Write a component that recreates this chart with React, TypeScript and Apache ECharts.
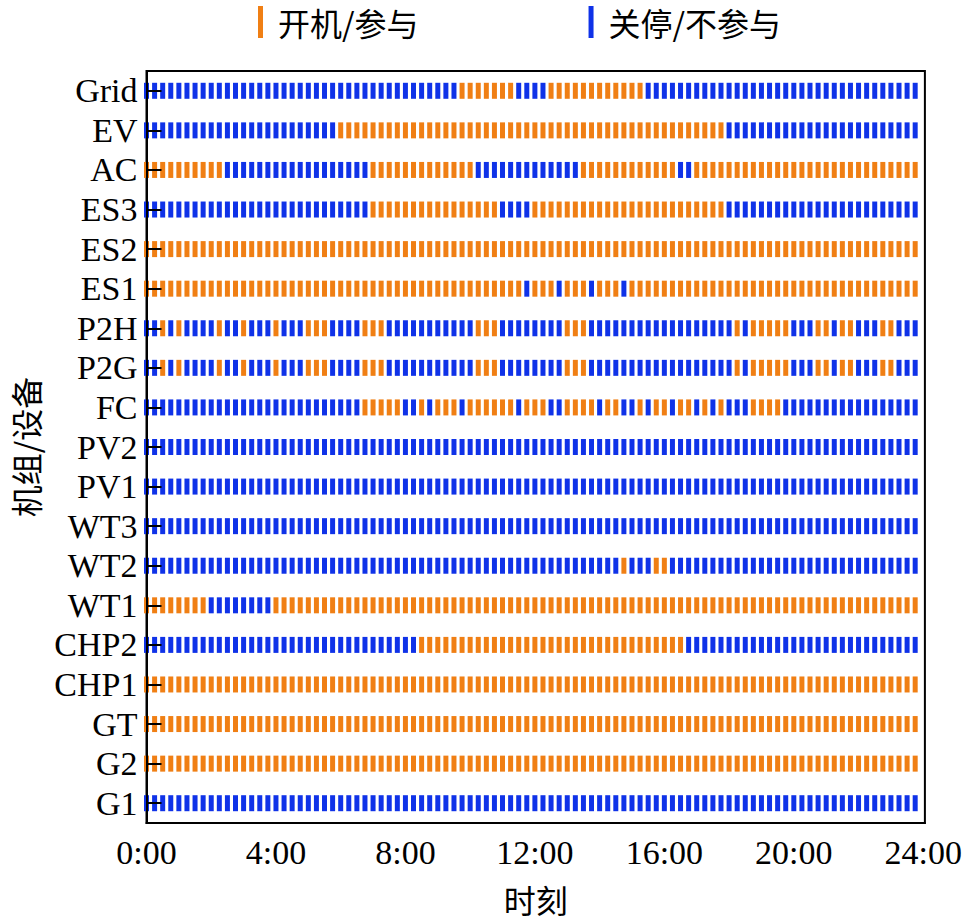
import React, { useEffect, useRef } from "react";
import * as echarts from "echarts";

// Units, bottom to top
const units = ["G1", "G2", "GT", "CHP1", "CHP2", "WT1", "WT2", "WT3", "PV1", "PV2", "FC", "P2G", "P2H", "ES1", "ES2", "ES3", "AC", "EV", "Grid"];

// On/off status per 15-minute slot (1 = 开机/参与, 0 = 关停/不参与), grouped by hour 0:00 .. 23:00
const G1 = "0000 0000 0000 0000 0000 0000 0000 0000 0000 0000 0000 0000 0000 0000 0000 0000 0000 0000 0000 0000 0000 0000 0000 0000";
const G2 = "1111 1111 1111 1111 1111 1111 1111 1111 1111 1111 1111 1111 1111 1111 1111 1111 1111 1111 1111 1111 1111 1111 1111 1111";
const GT = "1111 1111 1111 1111 1111 1111 1111 1111 1111 1111 1111 1111 1111 1111 1111 1111 1111 1111 1111 1111 1111 1111 1111 1111";
const CHP1 = "1111 1111 1111 1111 1111 1111 1111 1111 1111 1111 1111 1111 1111 1111 1111 1111 1111 1111 1111 1111 1111 1111 1111 1111";
const CHP2 = "0000 0000 0000 0000 0000 0000 0000 0000 0011 1111 1111 1111 1111 1111 1111 1111 1110 0000 0000 0000 0000 0000 0000 0000";
const WT1 = "1111 1111 0000 0000 1111 1111 1111 1111 1111 1111 1111 1111 1111 1111 1111 1111 1111 1111 1111 1111 1111 1111 1111 1111";
const WT2 = "0000 0000 0000 0000 0000 0000 0000 0000 0000 0000 0000 0000 0000 0000 0001 0001 1000 0000 0000 0000 0000 0000 0000 0000";
const WT3 = "0000 0000 0000 0000 0000 0000 0000 0000 0000 0000 0000 0000 0000 0000 0000 0000 0000 0000 0000 0000 0000 0000 0000 0000";
const PV1 = "0000 0000 0000 0000 0000 0000 0000 0000 0000 0000 0000 0000 0000 0000 0000 0000 0000 0000 0000 0000 0000 0000 0000 0000";
const PV2 = "0000 0000 0000 0000 0000 0000 0000 0000 0000 0000 0000 0000 0000 0000 0000 0000 0000 0000 0000 0000 0000 0000 0000 0000";
const FC = "0000 0000 0000 0000 0000 0000 0001 1111 0010 1110 1111 1101 1100 1111 0110 0101 1011 0101 0001 1110 0000 0000 0000 0000";
const P2G = "0010 1000 0100 1000 1000 1110 0001 1100 0000 0000 0111 0000 0000 1110 0000 0000 0000 0000 0101 1111 0001 1011 0001 1000";
const P2H = "0010 1000 0100 1000 1000 1110 0001 1100 0000 0000 0111 0000 0000 1110 0000 0000 0000 0000 0101 1111 0001 1011 0001 1000";
const ES1 = "1111 1111 1111 1111 1111 1111 1111 1111 1111 1111 1111 1110 1110 1110 1110 1111 1111 1111 1111 1111 1111 1111 1111 1111";
const ES2 = "1111 1111 1111 1111 1111 1111 1111 1111 1111 1111 1111 1111 1111 1111 1111 1111 1111 1111 1111 1111 1111 1111 1111 1111";
const ES3 = "0000 0000 0000 0000 0000 0000 0000 1111 1111 1111 1111 0000 1111 1111 1111 1111 1111 1111 0000 0000 0000 0000 0000 0000";
const AC = "1111 1111 1100 0000 0000 0000 0000 1111 1111 1111 1000 0000 0000 0011 1111 1111 1100 1111 1111 1111 1111 1111 1111 1111";
const EV = "0000 0000 0000 0000 0000 0000 1111 1111 1111 1111 1111 1111 1111 1111 1111 1111 1111 1111 0000 0000 0000 0000 0000 0000";
const Grid = "0000 0000 0000 0000 0000 0000 0000 0000 0000 0001 1111 1100 0011 1111 1111 1100 0000 0000 0000 0000 0000 0000 0000 0000";

const statusRows = [G1, G2, GT, CHP1, CHP2, WT1, WT2, WT3, PV1, PV2, FC, P2G, P2H, ES1, ES2, ES3, AC, EV, Grid];

const slotHours = 0.25;
const timeLabels = ["0:00", "4:00", "8:00", "12:00", "16:00", "20:00", "24:00"];
const legendNames = ["开机/参与", "关停/不参与"];
const ORANGE = "#F07F14";
const BLUE = "#0F32E8";

export default function App() {
  const ref = useRef<HTMLDivElement>(null);
  useEffect(() => {
    if (!ref.current) return;
    const chart = echarts.init(ref.current, undefined, { renderer: "svg" });
    const onData: any[] = [];
    const offData: any[] = [];
    statusRows.forEach((row, i) => {
      const s = row.replace(/\s/g, "");
      for (let k = 0; k < s.length; k++) {
        const pt = [k * slotHours, units[i]];
        if (s[k] === "1") onData.push(pt);
        else offData.push(pt);
      }
    });
    const serif = "'Liberation Serif', 'Times New Roman', serif";
    const cjk = "'Noto Sans CJK SC', sans-serif";
    chart.setOption({
      animation: false,
      legend: {
        left: 258,
        top: 6,
        padding: 0,
        itemWidth: 5,
        itemHeight: 32,
        itemGap: 170,
        icon: "rect",
        data: legendNames,
        itemStyle: { opacity: 1 },
        textStyle: { fontFamily: cjk, fontSize: 32, color: "#000", padding: [0, 0, 0, 10] },
      },
      grid: {
        left: 146.5,
        right: 39.5,
        top: 71,
        bottom: 98,
        show: true,
        borderColor: "#000",
        borderWidth: 2,
        backgroundColor: "transparent",
      },
      xAxis: {
        type: "value",
        min: 0,
        max: 24.05,
        interval: 4,
        axisLine: { show: true, lineStyle: { color: "#000", width: 2 } },
        axisTick: { show: false },
        splitLine: { show: false },
        axisLabel: {
          fontFamily: serif,
          fontSize: 34,
          color: "#000",
          margin: 12,
          formatter: (v: number) => (Math.abs(v % 4) < 1e-9 ? timeLabels[Math.round(v / 4)] : ""),
        },
        name: "时刻",
        nameLocation: "middle",
        nameGap: 60,
        nameTextStyle: { fontFamily: cjk, fontSize: 32, color: "#000" },
      },
      yAxis: {
        type: "category",
        data: units,
        z: 10,
        axisLine: { show: true, lineStyle: { color: "#000", width: 2 } },
        axisTick: { show: true, inside: true, length: 15, interval: 0, alignWithLabel: true, lineStyle: { color: "#000", width: 2 } },
        splitLine: { show: false },
        axisLabel: { interval: 0, fontFamily: serif, fontSize: 34, color: "#000", margin: 9 },
        name: "机组/设备",
        nameLocation: "middle",
        nameGap: 106,
        nameTextStyle: { fontFamily: cjk, fontSize: 32, color: "#000" },
      },
      series: [
        {
          name: legendNames[0],
          type: "scatter",
          symbol: "rect",
          symbolSize: [5, 16],
          clip: true,
          itemStyle: { color: ORANGE, opacity: 1 },
          data: onData,
        },
        {
          name: legendNames[1],
          type: "scatter",
          symbol: "rect",
          symbolSize: [5, 16],
          clip: true,
          itemStyle: { color: BLUE, opacity: 1 },
          data: offData,
        },
      ],
    });
    return () => chart.dispose();
  }, []);
  return <div ref={ref} style={{ position: "absolute", left: 0, top: 0, width: 965, height: 921 }} />;
}
